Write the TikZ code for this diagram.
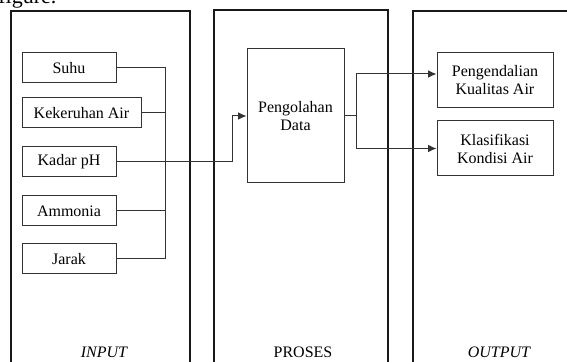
\documentclass[tikz,border=0pt]{standalone}
\usepackage{fontspec}
\setmainfont{Liberation Serif}
\usetikzlibrary{arrows.meta,positioning,calc}

\begin{document}
\begin{tikzpicture}[
    x=0.5pt, y=-0.5pt,
    panel/.style={draw=black!90, line width=0.6pt},
    inbox/.style={draw=black!80, line width=0.5pt, minimum width=47pt, minimum height=15pt, inner sep=1pt, align=center, font=\fontsize{8}{9}\selectfont},
    outbox/.style={draw=black!80, line width=0.5pt, minimum width=58pt, minimum height=27.5pt, inner sep=1pt, align=center, font=\fontsize{8}{9}\selectfont},
    wire/.style={draw=black!80, line width=0.5pt},
    arr/.style={wire, -{Latex[length=4.2pt,width=3.8pt]}},
    tag/.style={font=\fontsize{8}{9}\selectfont}
  ]
    \clip (0,0) rectangle (567,362);

    % panels
    \draw[panel] (11,380) -- (11,11) -- (190,11) -- (190,380);
    \draw[panel] (214,380) -- (214,10) -- (388,10) -- (388,380);
    \draw[panel] (413,380) -- (413,11) -- (580,11);
    \node[anchor=base west, inner sep=0pt, font=\fontsize{11}{12}\selectfont] (cap) at (-2,4) {figure.};

    % input
    \node[inbox] (suhu)   at (69, 68)  {Suhu};
    \node[inbox, minimum width=59.5pt] (keruh) at (81.5, 113) {Kekeruhan Air};
    \node[inbox] (ph)     at (69, 162) {Kadar pH};
    \node[inbox] (amon)   at (69, 211) {Ammonia};
    \node[inbox] (jarak)  at (69, 259) {Jarak};

    % proses
    \node[draw=black!80, line width=0.5pt, minimum width=48.5pt, minimum height=67pt, align=center, font=\fontsize{8}{9}\selectfont] (olah) at (295.5, 116) {Pengolahan\\Data};

    % output
    \node[outbox] (kendali) at (495, 80.5)  {Pengendalian\\Kualitas Air};
    \node[outbox] (klas)    at (495, 148.5) {Klasifikasi\\Kondisi Air};

    \node[tag, font=\fontsize{8}{9}\selectfont\itshape] (lin)  at (104, 352) {INPUT};
    \node[tag] (lpro) at (303, 352) {PROSES};
    \node[tag, font=\fontsize{8}{9}\selectfont\itshape] (lout) at (499, 352) {OUTPUT};

    \coordinate (bus)   at (165, 0);
    \coordinate (bend)  at (232, 0);
    \coordinate (split) at (356, 0);

    \draw[wire] (suhu.east) -- (suhu.east -| bus) -- (jarak.east -| bus) -- (jarak.east);
    \draw[wire] (keruh.east) -- (keruh.east -| bus);
    \draw[wire] (amon.east) -- (amon.east -| bus);
    \draw[arr] (ph.east) -- (ph.east -| bend) |- (olah.west);
    \draw[wire] (olah.east) -- (olah.east -| split);
    \draw[arr] (split |- olah.east) |- ([yshift=3.25pt]kendali.west);
    \draw[arr] (split |- olah.east) |- (klas.west);
  \end{tikzpicture}
\end{document}
